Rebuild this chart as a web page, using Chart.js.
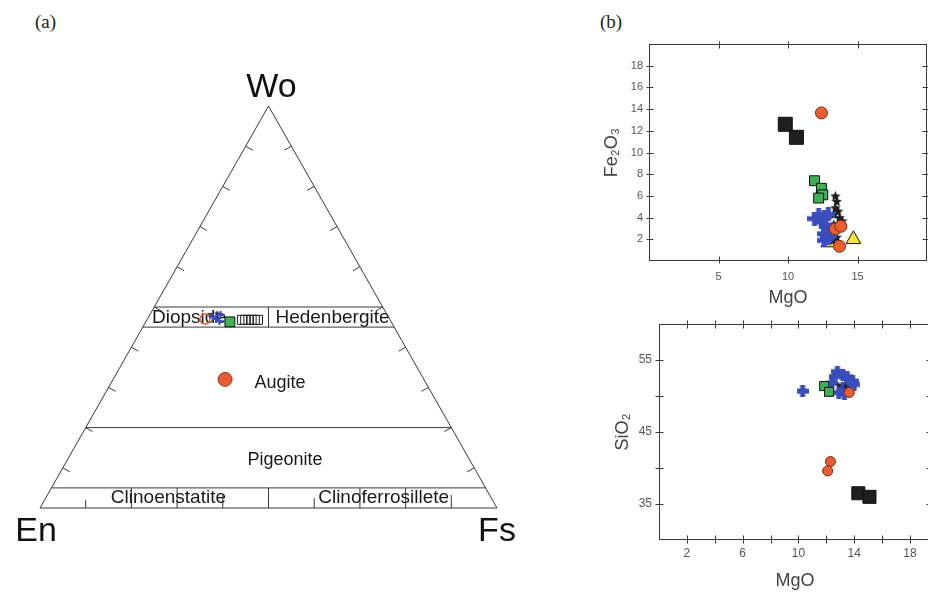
<!DOCTYPE html>
<html>
<head>
<meta charset="utf-8">
<script src="https://cdn.jsdelivr.net/npm/chart.js@4.4.1/dist/chart.umd.min.js"></script>
<style>
  html, body { margin: 0; padding: 0; background: #fff; }
  body { width: 928px; height: 592px; overflow: hidden; position: relative; }
  canvas { position: absolute; }
  .panel { position: absolute; font-family: "Liberation Serif", "Times New Roman", serif; font-size: 19px; color: #222; line-height: 22px; }
</style>
</head>
<body>
<div class="panel" style="left:35px; top:11px">(a)</div>
<div class="panel" style="left:600px; top:11px">(b)</div>
<canvas id="tern" width="560" height="592" style="left:0; top:0"></canvas>
<canvas id="fe" width="348" height="280" style="left:590px; top:30px"></canvas>
<canvas id="si" width="351" height="282" style="left:590px; top:310px"></canvas>
<script>
// ---------- (a) pyroxene quadrilateral, compositions as [Wo, En, Fs] mol % ----------
const ternAugite      = [[32.0, 43.5, 24.5]];
const ternRedOpen     = [[47.0, 40.4, 12.6]];
const ternBlue        = [[47.5, 38.5, 14.0], [47.0, 38.0, 15.0], [48.0, 36.5, 15.5], [46.5, 37.5, 16.0]];
const ternStar        = [[48.5, 37.0, 14.5], [48.0, 38.5, 13.5]];
const ternGreen       = [[46.3, 35.3, 18.4]];
const ternBlackOpen   = [[46.8, 32.4, 20.8], [46.8, 31.7, 21.5], [46.8, 31.0, 22.2],
                         [46.8, 30.3, 22.9], [46.8, 29.6, 23.6], [46.8, 28.9, 24.3]];

// field boundaries of the Wo-En-Fs diagram
const ternOutline   = [[0, 100, 0], [0, 0, 100], [100, 0, 0], [0, 100, 0]];
const ternBoundaries = [
  [[50, 50, 0], [50, 0, 50]],
  [[45, 55, 0], [45, 0, 55]],
  [[20, 80, 0], [20, 0, 80]],
  [[5, 95, 0], [5, 0, 95]],
  [[50, 25, 25], [45, 27.5, 27.5]],
  [[5, 47.5, 47.5], [0, 50, 50]]
];
const ternTickSteps = [10, 20, 30, 40, 50, 60, 70, 80, 90];

// ---------- (b) upper panel: Fe2O3 vs MgO (wt %) ----------
const feBlackSquares = [[9.8, 12.6], [10.6, 11.4]];
const feRed          = [[12.4, 13.65], [13.4, 2.95], [13.8, 3.2], [13.7, 1.35]];
const feGreen        = [[11.9, 7.4], [12.4, 6.7], [12.5, 6.1], [12.2, 5.8]];
const feBlue         = [[11.9, 3.9], [12.2, 4.2], [12.6, 4.1], [12.9, 4.3], [12.4, 3.6], [12.7, 3.3],
                        [12.9, 2.9], [12.6, 2.5], [12.8, 2.1], [12.6, 1.9], [13.0, 2.3]];
const feStars        = [[13.4, 6.0], [13.5, 5.5], [13.4, 4.9], [13.6, 4.6], [13.3, 4.3], [13.7, 4.0],
                        [13.9, 3.7], [13.3, 3.4], [13.5, 2.2], [13.2, 1.9]];
const feYellow       = [[14.7, 2.0], [12.9, 1.7]];

// ---------- (b) lower panel: SiO2 vs MgO (wt %) ----------
const siBlackSquares = [[14.3, 36.5], [15.1, 36.0]];
const siRed          = [[13.65, 50.5], [12.3, 40.9], [12.1, 39.6]];
const siGreen        = [[11.85, 51.4], [12.2, 50.6]];
const siBlue         = [[10.3, 50.7], [12.4, 51.8], [12.6, 52.7], [12.8, 53.4], [13.2, 53.0], [13.5, 52.7],
                        [13.9, 52.1], [14.0, 51.6], [13.7, 51.8], [13.2, 51.2], [12.9, 50.5], [13.3, 50.3]];
const siStars        = [[12.9, 51.6], [13.4, 51.4]];

const FONT = '"Liberation Sans", Arial, "DejaVu Sans", sans-serif';
const BLUE = '#3a4dbd', RED = '#ea5d33', GREEN = '#3eb056', YELLOW = '#f3e43b', DARK = '#1f1f1f';

// filled plus marker
function plusMarker(size, arm, color) {
  const c = document.createElement('canvas');
  c.width = size; c.height = size;
  const g = c.getContext('2d');
  g.fillStyle = color;
  const o = (size - arm) / 2;
  g.fillRect(0, o, size, arm);
  g.fillRect(o, 0, arm, size);
  return c;
}
// filled five-point star marker
function starMarker(size, color) {
  const c = document.createElement('canvas');
  c.width = size; c.height = size;
  const g = c.getContext('2d');
  const R = size / 2, r = R * 0.45, cx = size / 2, cy = size / 2 + 0.5;
  g.beginPath();
  for (let i = 0; i < 10; i++) {
    const rad = i % 2 ? r : R;
    const a = -Math.PI / 2 + i * Math.PI / 5;
    g.lineTo(cx + rad * Math.cos(a), cy + rad * Math.sin(a));
  }
  g.closePath();
  g.fillStyle = color;
  g.fill();
  return c;
}

const xy = arr => arr.map(([x, y]) => ({ x, y }));
// ternary composition -> plotting plane (x = Fs + Wo/2, y = Wo)
function tern([wo, en, fs]) {
  const s = wo + en + fs;
  const w = wo / s * 100, f = fs / s * 100;
  return { x: f + w / 2, y: w };
}
const ternPts = arr => arr.map(tern);

const lineDs = pts => ({
  data: ternPts(pts), showLine: true, pointRadius: 0, borderColor: '#3a3a3a',
  borderWidth: 1, clip: false, fill: false
});

// ticks, field names and apex names of the ternary
const ternaryDecor = {
  id: 'ternaryDecor',
  beforeDatasetsDraw(chart) {
    const { ctx, scales: { x, y } } = chart;
    const P = c => { const p = tern(c); return { x: x.getPixelForValue(p.x), y: y.getPixelForValue(p.y) }; };
    const En = P([0, 100, 0]), Fs = P([0, 0, 100]), Wo = P([100, 0, 0]);
    ctx.save();
    ctx.strokeStyle = '#3a3a3a';
    ctx.lineWidth = 1;
    const inward = (a, b) => {
      const dx = b.x - a.x, dy = b.y - a.y, L = Math.hypot(dx, dy);
      return { x: -dy / L, y: dx / L };
    };
    const nL = inward(En, Wo), nR = inward(Wo, Fs);
    const tick = 8;
    ternTickSteps.forEach(v => {
      const pl = P([v, 100 - v, 0]);
      ctx.beginPath(); ctx.moveTo(pl.x, pl.y); ctx.lineTo(pl.x + nL.x * tick, pl.y + nL.y * tick); ctx.stroke();
      const pr = P([v, 0, 100 - v]);
      ctx.beginPath(); ctx.moveTo(pr.x, pr.y); ctx.lineTo(pr.x + nR.x * tick, pr.y + nR.y * tick); ctx.stroke();
    });
    const baseLen = [8, 20, 20, 13, 6, 10, 20, 20, 13];
    ternTickSteps.forEach((v, i) => {
      const pb = P([0, 100 - v, v]);
      ctx.beginPath(); ctx.moveTo(pb.x, pb.y); ctx.lineTo(pb.x, pb.y - baseLen[i]); ctx.stroke();
    });

    ctx.fillStyle = '#1a1a1a';
    ctx.textAlign = 'center';
    ctx.textBaseline = 'middle';
    const at = (txt, px, wo, size) => {
      ctx.font = size + 'px ' + FONT;
      ctx.fillText(txt, x.getPixelForValue(px), y.getPixelForValue(wo));
    };
    at('Diopside', 32.6, 47.2, 19);
    at('Hedenbergite', 64.0, 47.4, 19);
    at('Augite', 52.5, 31.1, 18);
    at('Pigeonite', 53.6, 11.9, 18);
    at('Clinoenstatite', 28.1, 2.6, 19);
    at('Clinoferrosillete', 75.2, 2.6, 19);

    ctx.font = '34px ' + FONT;
    ctx.fillStyle = '#111';
    ctx.fillText('Wo', Wo.x + 3, Wo.y - 18);
    ctx.fillText('En', En.x - 4, En.y + 24);
    ctx.fillText('Fs', Fs.x, Fs.y + 24);
    ctx.restore();
  }
};

new Chart(document.getElementById('tern'), {
  type: 'scatter',
  data: {
    datasets: [
      { data: ternPts(ternAugite), pointStyle: 'circle', pointRadius: 7, backgroundColor: RED, borderColor: '#9a3a1c', borderWidth: 1, clip: false },
      { data: ternPts(ternGreen), pointStyle: 'rect', pointRadius: 7, backgroundColor: GREEN, borderColor: '#111', borderWidth: 1, clip: false },
      { data: ternPts(ternBlue), pointStyle: plusMarker(8, 2, BLUE), clip: false },
      { data: ternPts(ternStar), pointStyle: starMarker(7, '#2a2a4a'), clip: false },
      { data: ternPts(ternRedOpen), pointStyle: 'circle', pointRadius: 5, backgroundColor: 'rgba(0,0,0,0)', borderColor: RED, borderWidth: 1.5, clip: false },
      { data: ternPts(ternBlackOpen), pointStyle: 'rect', pointRadius: 6.4, backgroundColor: 'rgba(0,0,0,0)', borderColor: '#222', borderWidth: 1, clip: false },
      lineDs(ternOutline),
      ...ternBoundaries.map(lineDs)
    ]
  },
  options: {
    responsive: false, animation: false, events: [],
    layout: { padding: { left: 40, right: 63, top: 106, bottom: 84 } },
    scales: {
      x: { type: 'linear', min: 0, max: 100, display: false },
      y: { type: 'linear', min: 0, max: 100, display: false }
    },
    plugins: { legend: { display: false }, tooltip: { enabled: false } }
  },
  plugins: [ternaryDecor]
});

// frame with tick marks crossing all four sides
const frameTicks = {
  id: 'frameTicks',
  afterDatasetsDraw(chart, args, opts) {
    const { ctx, chartArea: a, scales: { x, y } } = chart;
    ctx.save();
    ctx.strokeStyle = '#3a3a3a';
    ctx.lineWidth = 1;
    const L = Math.round(a.left) + 0.5, R = Math.round(a.right) - 0.5;
    const T = Math.round(a.top) + 0.5, B = Math.round(a.bottom) - 0.5;
    ctx.strokeRect(L, T, R - L, B - T);
    const inn = opts.inner, out = opts.outer;
    ctx.beginPath();
    x.ticks.forEach(t => {
      if (t.value <= x.min || t.value >= x.max) return;
      const p = Math.round(x.getPixelForValue(t.value)) + 0.5;
      ctx.moveTo(p, B - inn); ctx.lineTo(p, B + out);
      ctx.moveTo(p, T - out); ctx.lineTo(p, T + inn);
    });
    y.ticks.forEach(t => {
      if (t.value <= y.min || t.value >= y.max) return;
      const p = Math.round(y.getPixelForValue(t.value)) + 0.5;
      ctx.moveTo(L - out, p); ctx.lineTo(L + inn, p);
      ctx.moveTo(R - inn, p); ctx.lineTo(R + out, p);
    });
    ctx.stroke();
    ctx.restore();
  }
};

function axisOpts(o) {
  return {
    type: 'linear', min: o.min, max: o.max,
    grid: { display: false, drawTicks: false },
    border: { display: false },
    ticks: {
      stepSize: o.step, autoSkip: false, includeBounds: false, padding: o.pad, color: '#555',
      font: { family: FONT, size: o.size },
      callback: o.label
    },
    title: { display: true, text: o.title, color: '#444', font: { family: FONT, size: 18 }, padding: o.tpad },
    afterFit: o.fit
  };
}

new Chart(document.getElementById('fe'), {
  type: 'scatter',
  data: {
    datasets: [
      { data: xy(feRed), pointStyle: 'circle', pointRadius: 6, backgroundColor: RED, borderColor: '#7a2c14', borderWidth: 1 },
      { data: xy(feGreen), pointStyle: 'rect', pointRadius: 7, backgroundColor: GREEN, borderColor: '#111', borderWidth: 1 },
      { data: xy(feBlackSquares), pointStyle: 'rect', pointRadius: 9.9, backgroundColor: DARK, borderColor: '#111', borderWidth: 1 },
      { data: xy(feBlue), pointStyle: plusMarker(14, 5, BLUE) },
      { data: xy(feStars), pointStyle: starMarker(11, '#1c1c1c') },
      { data: xy(feYellow), pointStyle: 'triangle', pointRadius: 8.5, backgroundColor: YELLOW, borderColor: '#111', borderWidth: 1 }
    ]
  },
  options: {
    responsive: false, animation: false, events: [],
    layout: { padding: { left: 0, right: 0, top: 14, bottom: 0 } },
    scales: {
      x: axisOpts({ min: 0, max: 20, step: 5, pad: 9, size: 11, title: 'MgO',
        label: v => (v === 0 || v === 20) ? '' : v,
        tpad: { top: 0, bottom: 1 }, fit: s => { s.height = 49; } }),
      y: axisOpts({ min: 0, max: 20, step: 2, pad: 6, size: 11, title: 'Fe\u2082O\u2083',
        label: v => (v === 0 || v === 20) ? '' : v,
        tpad: { top: 11, bottom: 0 }, fit: s => { s.width = 59; } })
    },
    plugins: { legend: { display: false }, tooltip: { enabled: false }, frameTicks: { inner: 4, outer: 3 } }
  },
  plugins: [frameTicks]
});

new Chart(document.getElementById('si'), {
  type: 'scatter',
  data: {
    datasets: [
      { data: xy(siRed), pointStyle: 'circle', pointRadius: 5, backgroundColor: RED, borderColor: '#7a2c14', borderWidth: 1 },
      { data: xy(siStars), pointStyle: starMarker(7, '#222') },
      { data: xy(siGreen), pointStyle: 'rect', pointRadius: 6.4, backgroundColor: GREEN, borderColor: '#111', borderWidth: 1 },
      { data: xy(siBlue), pointStyle: plusMarker(12, 5, BLUE) },
      { data: xy(siBlackSquares), pointStyle: 'rect', pointRadius: 9.2, backgroundColor: DARK, borderColor: '#111', borderWidth: 1 }
    ]
  },
  options: {
    responsive: false, animation: false, events: [],
    layout: { padding: { left: 0, right: 0, top: 13, bottom: 0 } },
    scales: {
      x: axisOpts({ min: 0, max: 19.5, step: 2, pad: 6, size: 12, title: 'MgO',
        label: v => ((v - 2) % 4 === 0) ? v : '',
        tpad: { top: 0, bottom: 0 }, fit: s => { s.height = 52; } }),
      y: axisOpts({ min: 30, max: 60, step: 5, pad: 7, size: 12, title: 'SiO\u2082',
        label: v => ((v - 35) % 10 === 0) ? v : '',
        tpad: { top: 22, bottom: 0 }, fit: s => { s.width = 69; } })
    },
    plugins: { legend: { display: false }, tooltip: { enabled: false }, frameTicks: { inner: 4, outer: 4 } }
  },
  plugins: [frameTicks]
});
</script>
</body>
</html>
